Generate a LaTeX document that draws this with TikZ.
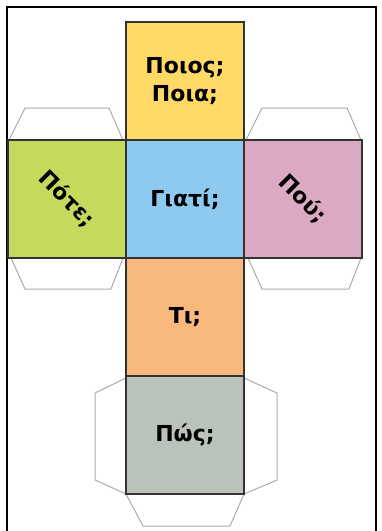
\documentclass[tikz,border=0pt]{standalone}
\usepackage{fontspec}
\usepackage{graphicx}
\setmainfont{DejaVu Sans}
\usetikzlibrary{positioning}
\definecolor{fTop}{HTML}{FFD966}
\definecolor{fMid}{HTML}{8ECAF0}
\definecolor{fLeft}{HTML}{C6D95C}
\definecolor{fRight}{HTML}{DBA9C4}
\definecolor{fLow}{HTML}{F9B97C}
\definecolor{fBase}{HTML}{B9C3BA}
\definecolor{inkDark}{HTML}{333333}
\definecolor{tabGrey}{HTML}{AAAAAA}

\begin{document}
\begin{tikzpicture}[x=1pt, y=-1pt, node distance=0pt,
  every node/.style={font=\fontsize{22}{28}\selectfont\bfseries},
  face/.style={draw=inkDark, line width=1.2pt, minimum size=118pt, inner sep=0pt, outer sep=0pt, align=center},
  tab/.style={draw=tabGrey, line width=1pt, line join=round}]
\useasboundingbox (0,0) rectangle (381,531);
\draw[line width=2pt] (7,531) -- (7,7) -- (376,7) -- (376,531);
% glue tabs
\draw[tab] (9,140) -- (25,108) -- (109,108) -- (123,140);
\draw[tab] (11,258) -- (25,289) -- (111,289) -- (123,258);
\draw[tab] (246,140) -- (262,108) -- (347,108) -- (361,140);
\draw[tab] (248,258) -- (262,289) -- (349,289) -- (361,258);
\draw[tab] (126,378) -- (95,393) -- (95,480) -- (126,494);
\draw[tab] (244,378) -- (277,393) -- (277,480) -- (244,494);
\draw[tab] (126,494) -- (143,526) -- (230,526) -- (244,494);
% faces
\node[face, fill=fTop] (top) at (185,81) {Ποιος;\\Ποια;};
\node[face, fill=fMid, below=of top] (mid) {Γιατί;};
\node[face, fill=fLeft, left=of mid] (left) {\rotatebox{-45}{Πότε;}};
\node[face, fill=fRight, right=of mid] (right) {\rotatebox{-45}{Πού;}};
\node[face, fill=fLow, below=of mid] (low) {Τι;};
\node[face, fill=fBase, below=of low] (base) {Πώς;};
\end{tikzpicture}
\end{document}
